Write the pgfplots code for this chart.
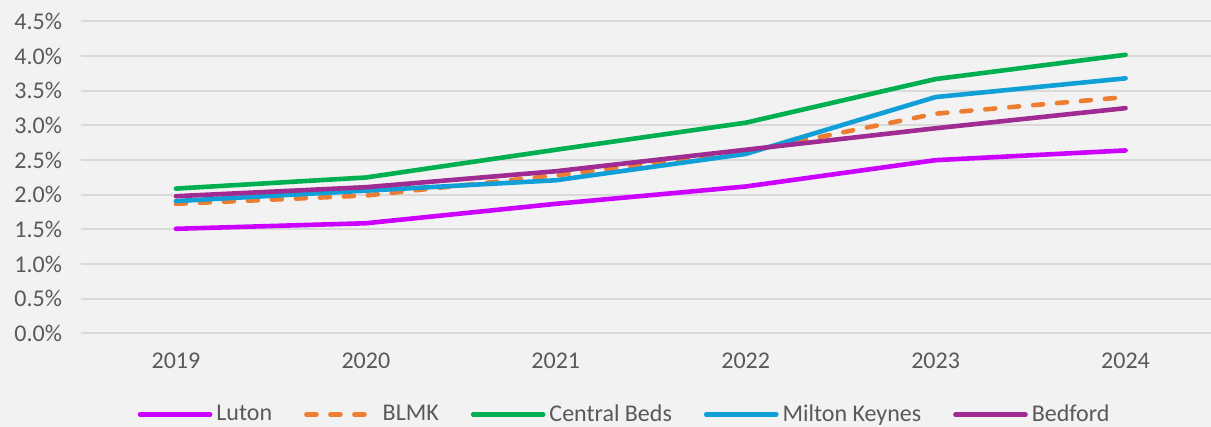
\documentclass[border=0pt]{standalone}
\usepackage{fontspec}
\setmainfont{Carlito}
\usepackage{pgfplots}
\pgfplotsset{compat=1.18}
\definecolor{bg}{HTML}{F2F2F2}
\definecolor{gridc}{HTML}{D9D9D9}
\definecolor{txt}{HTML}{595959}
\definecolor{cluton}{HTML}{CC00FF}
\definecolor{cblmk}{HTML}{ED7D31}
\definecolor{ccb}{HTML}{00B050}
\definecolor{cmk}{HTML}{119FD8}
\definecolor{cbed}{HTML}{A02B93}
\begin{document}
\begin{tikzpicture}
\fill[bg] (-40.5pt,-46.75pt) rectangle (565pt,166.75pt);
\begin{axis}[
  name=ax, at={(0,0)}, anchor=south west,
  scale only axis, width=565pt, height=156pt,
  xmin=-0.5, xmax=5.45, ymin=0, ymax=4.5,
  xtick={0,1,2,3,4,5}, xticklabels={2019,2020,2021,2022,2023,2024},
  ytick={0,0.5,1,1.5,2,2.5,3,3.5,4,4.5},
  /pgf/number format/assume math mode=true,
  yticklabel={\pgfmathprintnumber[fixed,fixed zerofill,precision=1]{\tick}\%},
  ticklabel style={font=\fontsize{12}{14}\selectfont, text=txt},
  xticklabel style={yshift=-6pt},
  yticklabel style={xshift=-6pt},
  axis line style={draw=none}, tick style={draw=none},
  ymajorgrids, grid style={gridc, line width=1pt},
  legend columns=5,
  legend style={at={(0.482,0)}, yshift=-40.5pt, anchor=center, draw=none, fill=none,
    font=\fontsize{12}{14}\selectfont, text=txt,
    nodes={inner xsep=2pt, inner ysep=0pt},
    /tikz/every even column/.append style={column sep=14pt}},
  legend image code/.code={\draw[#1] (0pt,0pt) -- (35pt,0pt);},
  every axis plot/.append style={line width=2.3pt, line cap=round, line join=round},
  clip=false,
]
\addplot[cluton] coordinates {(0,1.51) (1,1.59) (2,1.87) (3,2.12) (4,2.50) (5,2.64)};
\addlegendentry{Luton}
\addplot[cblmk, dash pattern=on 5pt off 7pt] coordinates {(0,1.87) (1,1.99) (2,2.28) (3,2.62) (4,3.17) (5,3.41)};
\addlegendentry{BLMK}
\addplot[ccb] coordinates {(0,2.09) (1,2.25) (2,2.65) (3,3.04) (4,3.67) (5,4.02)};
\addlegendentry{Central Beds}
\addplot[cmk] coordinates {(0,1.91) (1,2.06) (2,2.21) (3,2.59) (4,3.41) (5,3.68)};
\addlegendentry{Milton Keynes}
\addplot[cbed] coordinates {(0,1.98) (1,2.11) (2,2.34) (3,2.65) (4,2.96) (5,3.25)};
\addlegendentry{Bedford}
\end{axis}
\pgfresetboundingbox
\path (-40.5pt,-46.75pt) rectangle (565pt,166.75pt);
\end{tikzpicture}
\end{document}
